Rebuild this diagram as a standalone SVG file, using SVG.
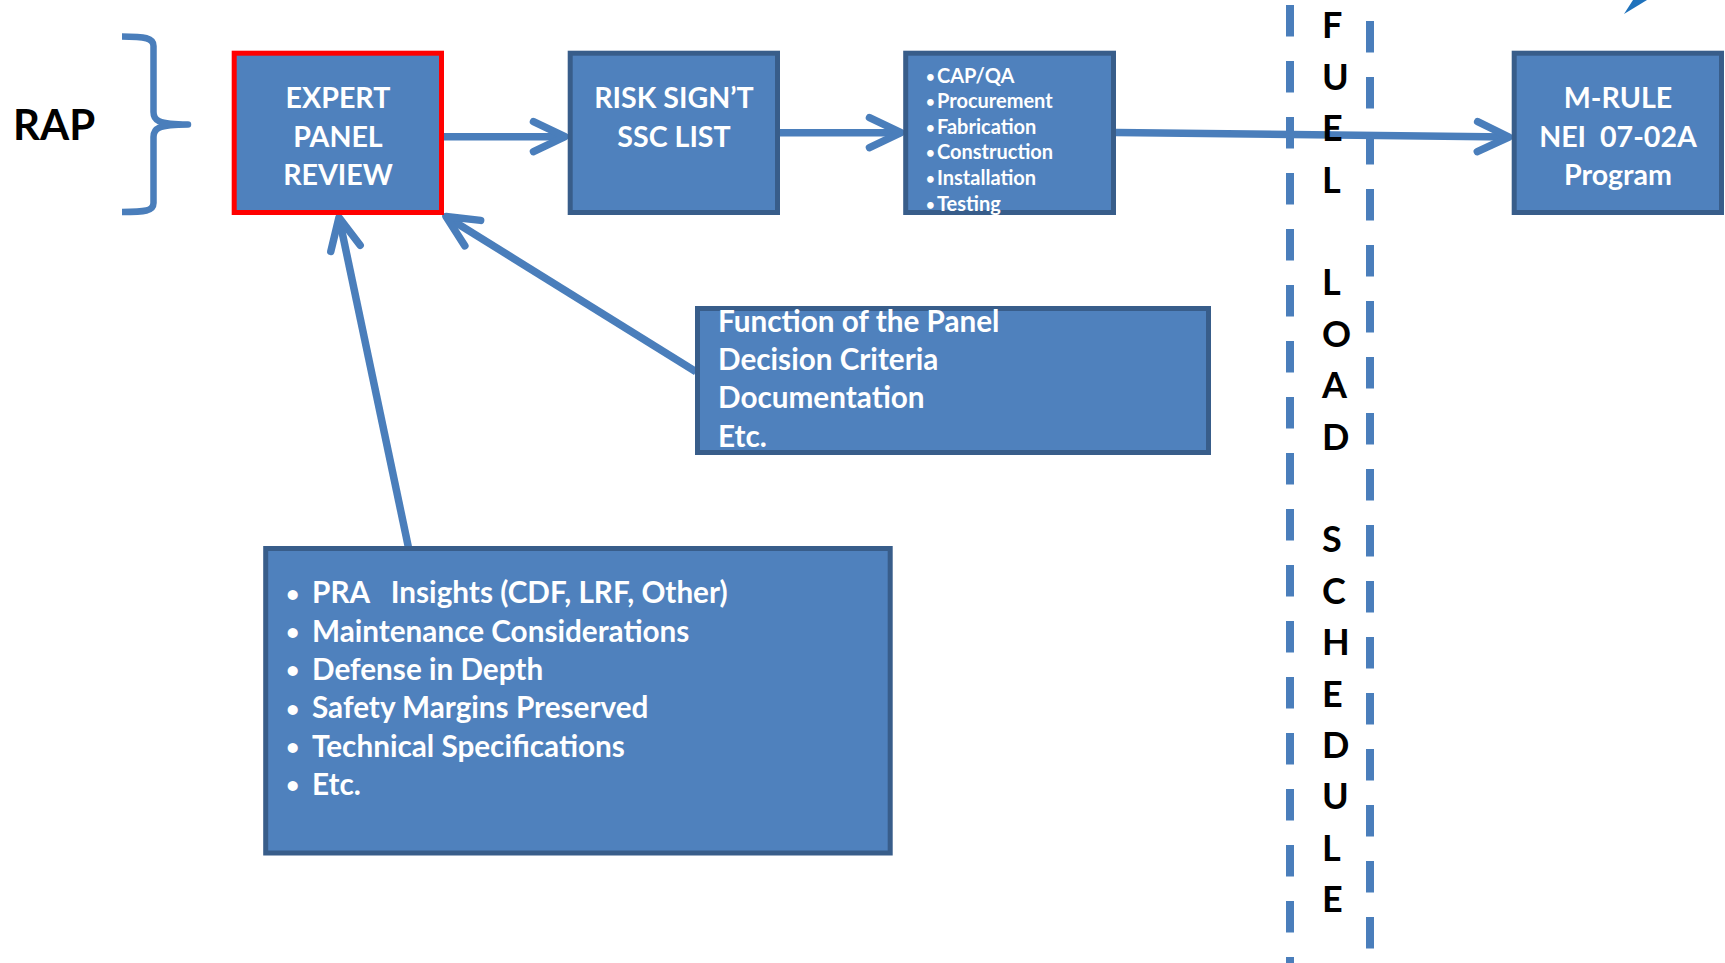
<svg xmlns="http://www.w3.org/2000/svg" width="1725" height="963" viewBox="0 0 1725 963">
  <defs>
    <style>
      .box { fill: #4F81BD; stroke: #385D8A; stroke-width: 5; }
      .box-hl { fill: #4F81BD; stroke: #FF0000; stroke-width: 5; }
      .wt { fill: #FFFFFF; font-family: Lato, "Liberation Sans", sans-serif; font-weight: bold; }
      .bk { fill: #000000; font-family: Lato, "Liberation Sans", sans-serif; font-weight: bold; }
      .big { font-size: 28.6px; }
      .list { font-size: 29.7px; }
      .small { font-size: 20px; }
      .dot-s { font-size: 15px; }
      .dot-l { font-size: 23px; }
      .ctr { text-anchor: middle; }
      .pre { white-space: pre; }
      .conn { fill: none; stroke: #4A7EBB; stroke-width: 7.5; marker-end: url(#chev); }
      .dash { stroke: #4A7EBB; stroke-width: 8; stroke-dasharray: 31.5 24.5; }
      .brace { fill: none; stroke: #4A7EBB; stroke-width: 6.5; stroke-linejoin: round; }
    </style>
    <!-- open chevron arrowhead -->
    <marker id="chev" markerUnits="userSpaceOnUse" orient="auto" refX="0" refY="0" markerWidth="60" markerHeight="60" overflow="visible">
      <path d="M-31.5,-15 L0,0 L-31.5,15" fill="none" stroke="#4A7EBB" stroke-width="7.5" stroke-linecap="round" stroke-linejoin="round"/>
    </marker>
  </defs>

  <rect width="1725" height="963" fill="#FFFFFF"/>

  <!-- RAP label and brace -->
  <g id="rap">
    <text class="bk" x="13" y="140" style="font-size:42px">RAP</text>
    <path class="brace" d="M122,36.5 C145,36.5 153.5,38 153.5,46 L153.5,112 C153.5,120 157,124.5 188,124.5 C157,124.5 153.5,129 153.5,137 L153.5,203 C153.5,211 145,212 122,212"/>
  </g>

  <!-- fuel load schedule boundary -->
  <g id="fuel-load-boundary">
    <line class="dash" x1="1290" y1="5" x2="1290" y2="963"/>
    <line class="dash" x1="1370" y1="21" x2="1370" y2="949"/>
  </g>

  <!-- connectors -->
  <g id="connectors">
    <line class="conn" x1="444" y1="136.7" x2="565" y2="136.7"/>
    <line class="conn" x1="780" y1="132.7" x2="901" y2="132.7"/>
    <line class="conn" x1="1116" y1="132.5" x2="1509" y2="137"/>
    <line class="conn" x1="408.3" y1="546.7" x2="339" y2="217.5"/>
    <line class="conn" x1="696" y1="371.7" x2="446" y2="216.5"/>
  </g>

  <!-- partial shape at top right -->
  <polygon points="1624,14 1633,0 1647,0" fill="#1F72BC"/>

  <g id="expert-panel-review">
    <rect class="box-hl" x="234.2" y="53.2" width="207.3" height="159.3"/>
    <text class="wt big ctr" x="338" y="108">EXPERT</text>
    <text class="wt big ctr" x="338" y="147">PANEL</text>
    <text class="wt big ctr" x="338" y="185">REVIEW</text>
  </g>

  <g id="risk-ssc-list">
    <rect class="box" x="570.2" y="53.2" width="207.3" height="159.3"/>
    <text class="wt big ctr" x="674" y="108">RISK SIGN’T</text>
    <text class="wt big ctr" x="674" y="146.7">SSC LIST</text>
  </g>

  <g id="activities">
    <rect class="box" x="905.7" y="53.2" width="207.8" height="159.3"/>
    <text class="wt small"><tspan class="dot-s" x="926" y="81.5">•</tspan><tspan x="937" y="82.5">CAP/QA</tspan></text>
    <text class="wt small"><tspan class="dot-s" x="926" y="107.1">•</tspan><tspan x="937" y="108.1">Procurement</tspan></text>
    <text class="wt small"><tspan class="dot-s" x="926" y="132.7">•</tspan><tspan x="937" y="133.7">Fabrication</tspan></text>
    <text class="wt small"><tspan class="dot-s" x="926" y="158.3">•</tspan><tspan x="937" y="159.3">Construction</tspan></text>
    <text class="wt small"><tspan class="dot-s" x="926" y="183.9">•</tspan><tspan x="937" y="184.9">Installation</tspan></text>
    <text class="wt small"><tspan class="dot-s" x="926" y="209.5">•</tspan><tspan x="937" y="210.5">Testing</tspan></text>
  </g>

  <g id="m-rule-program">
    <rect class="box" x="1514.2" y="53.2" width="207.3" height="159.3"/>
    <text class="wt big ctr" x="1618" y="108">M-RULE</text>
    <text class="wt big ctr pre" x="1618" y="146.7">NEI  07-02A</text>
    <text class="wt big ctr" x="1618" y="185">Program</text>
  </g>

  <g id="panel-function">
    <rect class="box" x="697.5" y="308.5" width="511" height="144"/>
    <text class="wt list" x="718" y="331.7">Function of the Panel</text>
    <text class="wt list" x="718" y="370">Decision Criteria</text>
    <text class="wt list" x="718" y="408.3">Documentation</text>
    <text class="wt list" x="718" y="446.5">Etc.</text>
  </g>

  <g id="insights">
    <rect class="box" x="265.7" y="548.5" width="624.5" height="304.5"/>
    <text class="wt list pre"><tspan class="dot-l" x="286" y="601.5">•</tspan><tspan x="312" y="603.3">PRA   Insights (CDF, LRF, Other)</tspan></text>
    <text class="wt list"><tspan class="dot-l" x="286" y="639.9">•</tspan><tspan x="312" y="641.7">Maintenance Considerations</tspan></text>
    <text class="wt list"><tspan class="dot-l" x="286" y="678.2">•</tspan><tspan x="312" y="680">Defense in Depth</tspan></text>
    <text class="wt list"><tspan class="dot-l" x="286" y="716.5">•</tspan><tspan x="312" y="718.3">Safety Margins Preserved</tspan></text>
    <text class="wt list"><tspan class="dot-l" x="286" y="754.9">•</tspan><tspan x="312" y="756.7">Technical Specifications</tspan></text>
    <text class="wt list"><tspan class="dot-l" x="286" y="793.2">•</tspan><tspan x="312" y="795">Etc.</tspan></text>
  </g>

  <!-- vertical lettering between the boundary lines -->
  <g id="fuel-load-schedule" style="font-size:36px">
    <text class="bk" x="1322" y="38.3">F</text>
    <text class="bk" x="1322" y="89.7">U</text>
    <text class="bk" x="1322" y="141.1">E</text>
    <text class="bk" x="1322" y="192.5">L</text>
    <text class="bk" x="1322" y="295.3">L</text>
    <text class="bk" x="1322" y="346.7">O</text>
    <text class="bk" x="1322" y="398.1">A</text>
    <text class="bk" x="1322" y="449.5">D</text>
    <text class="bk" x="1322" y="552.3">S</text>
    <text class="bk" x="1322" y="603.7">C</text>
    <text class="bk" x="1322" y="655.1">H</text>
    <text class="bk" x="1322" y="706.5">E</text>
    <text class="bk" x="1322" y="757.9">D</text>
    <text class="bk" x="1322" y="809.3">U</text>
    <text class="bk" x="1322" y="860.7">L</text>
    <text class="bk" x="1322" y="912.1">E</text>
  </g>
</svg>
